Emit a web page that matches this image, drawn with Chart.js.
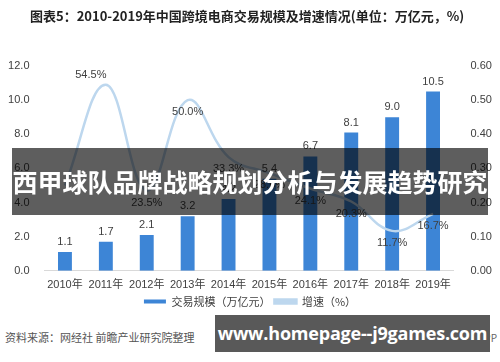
<!DOCTYPE html>
<html>
<head>
<meta charset="utf-8">
<script src="https://cdn.jsdelivr.net/npm/chart.js@4.4.0/dist/chart.umd.min.js"></script>
<style>
  body { margin: 0; background: #fff; }
  #wrap { position: relative; width: 500px; height: 362px; overflow: hidden; font-family: "Noto Sans CJK SC", sans-serif; }
  #title { position: absolute; left: 30px; top: 6px; font-size: 13px; font-weight: bold; color: #222; white-space: nowrap; }
  #cv { position: absolute; left: 0; top: 0; }
  #band { position: absolute; left: 12px; top: 148px; width: 476px; height: 67px; background: rgba(0,0,0,0.63);
          color: #fff; font-size: 25px; font-weight: bold; line-height: 67px; text-align: center; white-space: nowrap; }
  #src { position: absolute; left: 5px; top: 329px; font-size: 11px; color: #555; }
  #app { position: absolute; right: 3px; top: 330px; font-size: 10px; color: #666; }
  #box { position: absolute; left: 215px; top: 315px; width: 275px; height: 37px; background: #595959;
         color: #fff; font-family: "Open Sans", sans-serif; font-weight: bold; font-size: 18px; letter-spacing: -0.2px;
         line-height: 37px; text-align: center; white-space: nowrap; }
</style>
</head>
<body>
<div id="wrap">
  <canvas id="cv" width="500" height="319"></canvas>
  <div id="title">图表5：2010-2019年中国跨境电商交易规模及增速情况(单位：万亿元，%)</div>
  <div id="src">资料来源：网经社 前瞻产业研究院整理</div>
  <div id="app">@前瞻经济学人APP</div>
  <div id="band">西甲球队品牌战略规划分析与发展趋势研究</div>
  <div id="box">www.homepage--j9games.com</div>
</div>
<script>
// data
var years = ['2010年','2011年','2012年','2013年','2014年','2015年','2016年','2017年','2018年','2019年'];
var volume = [1.1, 1.7, 2.1, 3.2, 4.2, 5.4, 6.7, 8.1, 9.0, 10.5];
var growth = [0.25, 0.545, 0.235, 0.50, 0.333, 0.286, 0.241, 0.203, 0.117, 0.167];

var tickFont = { family: '"Liberation Sans", "Noto Sans CJK SC", sans-serif', size: 11 };

// value labels, drawn after the datasets
var labelPlugin = {
  id: 'labels',
  afterDatasetsDraw: function(chart) {
    var ctx = chart.ctx;
    ctx.save();
    ctx.font = '11px "Liberation Sans", sans-serif';
    ctx.fillStyle = '#404040';
    ctx.textAlign = 'center';
    ctx.textBaseline = 'middle';
    chart.getDatasetMeta(0).data.forEach(function(bar, i) {
      ctx.fillText(volume[i].toFixed(1), bar.x, bar.y - 10);
    });
    chart.getDatasetMeta(1).data.forEach(function(pt, i) {
      if (i == 0) return;
      var txt = (growth[i] * 100).toFixed(1) + '%';
      if (i == 1) ctx.fillText(txt, pt.x - 15, pt.y - 10);
      else ctx.fillText(txt, pt.x, pt.y + 12);
    });
    ctx.restore();
  }
};

var chart = new Chart(document.getElementById('cv'), {
  type: 'bar',
  data: {
    labels: years,
    datasets: [
      {
        label: '交易规模（万亿元）',
        data: volume,
        backgroundColor: '#3d85d6',
        barPercentage: 0.34,
        categoryPercentage: 1,
        yAxisID: 'y',
        order: 2
      },
      {
        type: 'line',
        label: '增速（%）',
        data: growth,
        borderColor: '#bdd7ee',
        backgroundColor: '#bdd7ee',
        borderWidth: 2.5,
        tension: 0.4,
        pointRadius: 0,
        yAxisID: 'y1',
        order: 1
      }
    ]
  },
  options: {
    responsive: false,
    animation: false,
    layout: { padding: { top: 66, left: 0, right: 0, bottom: 2 } },
    plugins: {
      legend: {
        position: 'bottom',
        labels: {
          boxWidth: 22, boxHeight: 4, color: '#404040', padding: 4,
          font: { family: '"Noto Sans CJK SC", sans-serif', size: 11 },
          sort: function(a, b) { return a.datasetIndex - b.datasetIndex; }
        }
      },
      tooltip: { enabled: false }
    },
    scales: {
      x: {
        grid: { display: false },
        border: { color: '#d9d9d9' },
        ticks: { color: '#404040', font: tickFont, padding: 0, maxRotation: 0, autoSkip: false }
      },
      y: {
        position: 'left',
        min: 0, max: 12,
        grid: { display: false },
        border: { display: false },
        ticks: { stepSize: 2, color: '#404040', font: tickFont, padding: 7, callback: function(v) { return v.toFixed(1); } },
        afterFit: function(s) { s.width = 44.5; }
      },
      y1: {
        position: 'right',
        min: 0, max: 0.6,
        grid: { display: false },
        border: { display: false },
        ticks: { stepSize: 0.1, color: '#404040', font: tickFont, padding: 9, callback: function(v) { return v.toFixed(2); } },
        afterFit: function(s) { s.width = 46.5; }
      }
    }
  },
  plugins: [labelPlugin]
});
</script>
</body>
</html>
